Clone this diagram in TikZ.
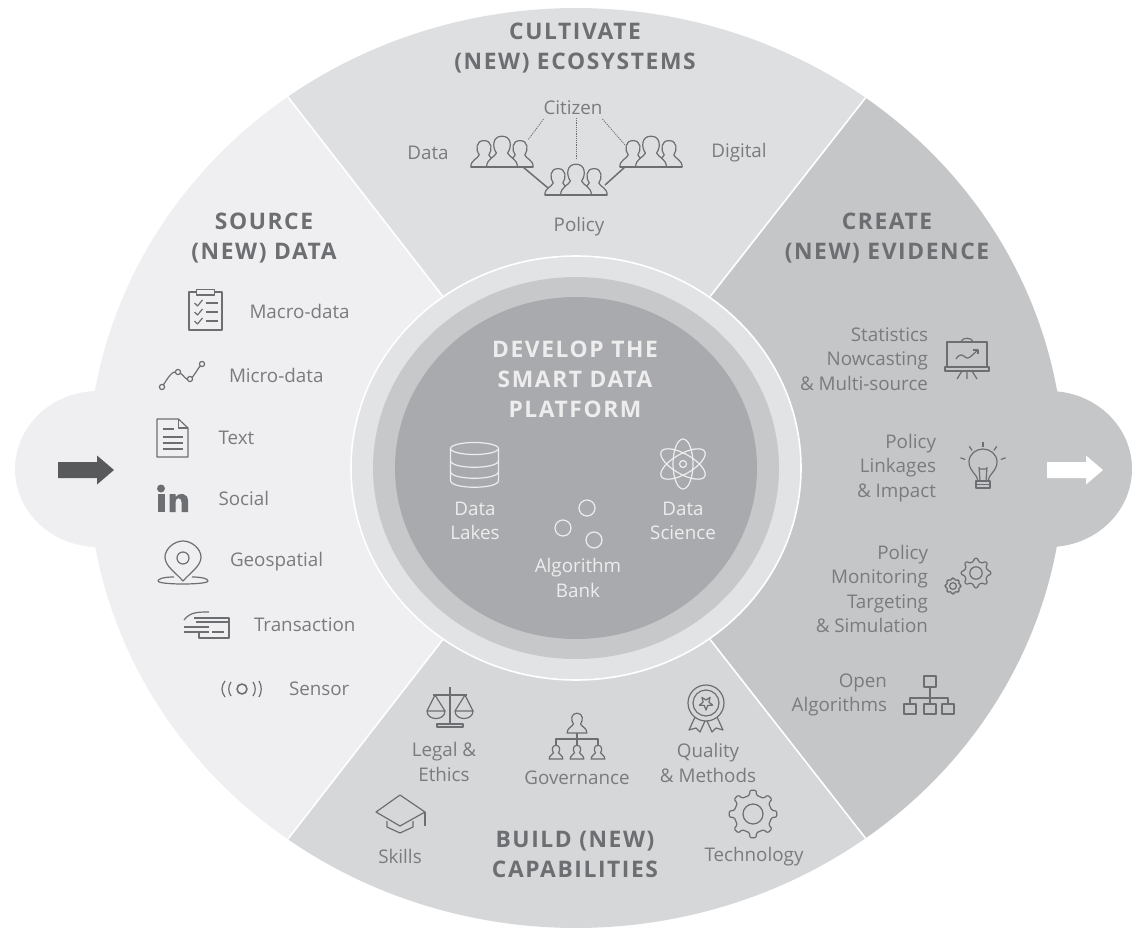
\documentclass[tikz,border=0pt]{standalone}
\usepackage{fontspec}
\usepackage{tikz}
\usetikzlibrary{positioning, calc}
\setmainfont{Open Sans}
\newfontfamily\ttlfont[LetterSpace=7]{Open Sans}
\definecolor{wedgeL}{HTML}{EFEFF1}
\definecolor{wedgeT}{HTML}{DEDFE1}
\definecolor{wedgeR}{HTML}{C5C6C8}
\definecolor{wedgeB}{HTML}{D6D7D9}
\definecolor{ringA}{HTML}{E2E3E5}
\definecolor{ringB}{HTML}{C7C8CA}
\definecolor{hub}{HTML}{A9AAAD}
\definecolor{inkA}{HTML}{7A7B7E}
\definecolor{inkB}{HTML}{6D6E71}
\definecolor{inkC}{HTML}{58595B}
\definecolor{hubtext}{HTML}{EDEDEE}
\tikzset{
every node/.style={inner sep=0pt, outer sep=0pt},
seam/.style={draw=white, line width=1.6pt}, % white seams between the sectors
lbl/.style={font=\fontsize{18.8}{24.5}\selectfont, text=inkA, align=center},
lblr/.style={lbl, align=right},
ttl/.style={font=\ttlfont\fontsize{22.8}{30}\bfseries\selectfont, text=inkB, align=center},
hubttl/.style={ttl, text=hubtext},
hublbl/.style={lbl, text=hubtext},
icon/.style={draw=inkB, line width=1.2pt, line join=round},
hubicon/.style={draw=hubtext, line width=1.2pt},
personicon/.pic={
  \draw[icon, pic actions] (-11,0) .. controls (-11,-6) and (-5,-7) .. (-4,-10)
    .. controls (-7,-14) and (-7,-22) .. (0,-22) .. controls (7,-22) and (7,-14) .. (4,-10)
    .. controls (5,-7) and (11,-6) .. (11,0) -- cycle;
},
groupicon/.pic={
  \pic[scale=1.2, fill=wedgeT] at (-18,0) {personicon};
  \pic[scale=1.2, fill=wedgeT] at (18,0) {personicon};
  \pic[scale=1.4, fill=wedgeT] at (0,0) {personicon};
  \draw[icon, line width=1.5pt] (-31,0) -- (31,0);
},
gearicon/.pic={
  \draw[icon, rounded corners=1.2pt] (-11:19) \foreach \a in {0,45,...,315} {
    -- ({\a-11}:19) -- ({\a-7}:24) -- ({\a+7}:24) -- ({\a+11}:19) } -- cycle;
  \draw[icon] (0,0) circle [radius=10];
},
blockarrow/.pic={
  \fill[pic actions] (0,-8) -- (39,-8) -- (39,-14.5) -- (56,0) -- (39,14.5) -- (39,8) -- (0,8) -- cycle;
},
}

\begin{document}
\begin{tikzpicture}[x=1pt, y=-1pt]
        \useasboundingbox (0,0) rectangle (1132,928);

        % side lobes behind the disc
        \fill[wedgeL] (98,469) ellipse [x radius=83, y radius=78];
        \fill[wedgeR] (1049,469) ellipse [x radius=83, y radius=78];

        % four sectors
        \coordinate (mid) at (576,468);
        \coordinate (cornerBL) at ($(mid)+(126.2:488 and 460)$);
        \coordinate (cornerTL) at ($(mid)+(233.8:488 and 460)$);
        \coordinate (cornerTR) at ($(mid)+(-53.6:488 and 460)$);
        \coordinate (cornerBR) at ($(mid)+(53.6:488 and 460)$);
        \fill[wedgeL] (mid) -- (cornerBL) arc [start angle=126.2, end angle=233.8, x radius=488, y radius=460] -- cycle;
        \fill[wedgeT] (mid) -- (cornerTL) arc [start angle=233.8, end angle=306.4, x radius=488, y radius=460] -- cycle;
        \fill[wedgeR] (mid) -- (cornerTR) arc [start angle=-53.6, end angle=53.6, x radius=488, y radius=460] -- cycle;
        \fill[wedgeB] (mid) -- (cornerBR) arc [start angle=53.6, end angle=126.2, x radius=488, y radius=460] -- cycle;
        \draw[seam] (mid) -- (cornerBL);
        \draw[seam] (mid) -- (cornerTL);
        \draw[seam] (mid) -- (cornerTR);
        \draw[seam] (mid) -- (cornerBR);

        % hub
        \filldraw[seam, fill=ringA] (mid) ellipse [x radius=225, y radius=212];
        \fill[ringB] (mid) ellipse [x radius=203, y radius=191];
        \fill[hub] (mid) ellipse [x radius=181, y radius=171];

        % arrows
        \pic[fill=inkC] at (58,470) {blockarrow};
        \pic[fill=white] at (1047,470) {blockarrow};

        % titles
        \node[ttl] (source) at (264,238) {SOURCE\\(NEW) DATA};
        \node[ttl] (cultivate) at (575,48) {CULTIVATE\\(NEW) ECOSYSTEMS};
        \node[ttl] (create) at (887,238) {CREATE\\(NEW) EVIDENCE};
        \node[ttl] (build) at (575,854) {BUILD (NEW)\\CAPABILITIES};
        \node[hubttl] (develop) at (575,379) {DEVELOP THE\\SMART DATA\\PLATFORM};

        % source column
        \coordinate (clip) at (205.5,311);
        \coordinate (line) at (182,375);
        \coordinate (page) at (172.5,438);
        \coordinate (link) at (172.5,498);
        \coordinate (geo) at (183,562);
        \coordinate (card) at (206,625);
        \coordinate (wave) at (242,689);
        \node[lbl, right=44pt of clip] (macro) {Macro-data};
        \node[lbl, right=47pt of line] (micro) {Micro-data};
        \node[lbl, right=46pt of page] (text) {Text};
        \node[lbl, right=46pt of link] (social) {Social};
        \node[lbl, right=47pt of geo] (geospatial) {Geospatial};
        \node[lbl, right=48pt of card] (transaction) {Transaction};
        \node[lbl, right=47pt of wave] (sensor) {Sensor};

        \begin{scope}[shift={(clip)}]
        \draw[icon] (-16.5,-19) rectangle (16.5,19);
        \draw[icon, fill=wedgeL] (-9,-21.5) rectangle (9,-16);
        \foreach \y in {-8,1,10} {
          \draw[icon] (-11,\y) -- (-8,{\y+3}) -- (-3,{\y-3});
          \draw[icon] (0,\y) -- (12,\y);
        }
        \end{scope}
        \draw[icon] (162,387) .. controls (168,378) and (172,370) .. (178,372)
          .. controls (184,374) and (186,382) .. (190,379) .. controls (195,376) and (196,370) .. (202,364);
        \foreach \p in {(162,387),(178,372),(190,379),(202,364)}
          \draw[icon, fill=wedgeL] \p circle [radius=2.6];
        \begin{scope}[shift={(page)}]
        \draw[icon] (-15.5,-19) -- (6,-19) -- (15.5,-10) -- (15.5,19) -- (-15.5,19) -- cycle;
        \draw[icon] (6,-19) -- (6,-10) -- (15.5,-10);
        \draw[icon] (-10,-9) -- (1,-9);
        \foreach \y in {-1,5,11} \draw[icon] (-10,\y) -- (10,\y);
        \end{scope}
        \begin{scope}[shift={(link)}]
        \fill[inkB] (-11.5,-9.5) circle [radius=4];
        \fill[inkB] (-15,-4) rectangle (-8,14);
        \fill[inkB] (-3,-4) -- (3,-4) -- (3,-1) .. controls (6,-5.5) and (15.5,-6) .. (15.5,3) -- (15.5,14) -- (9,14) -- (9,4)
          .. controls (9,-1) and (3,-1) .. (3,4) -- (3,14) -- (-3,14) -- cycle;
        \end{scope}
        \begin{scope}[shift={(geo)}]
        \draw[icon] (0,19) .. controls (-8,10) and (-18,4) .. (-18,-5) .. controls (-18,-13) and (-9,-21) .. (0,-21)
          .. controls (9,-21) and (18,-13) .. (18,-5) .. controls (18,4) and (8,10) .. (0,19) -- cycle;
        \draw[icon] (0,-4) circle [radius=6];
        \draw[icon] (-9,15) .. controls (-20,15) and (-25,17) .. (-25,19) .. controls (-25,23) and (25,23) .. (25,19)
          .. controls (25,17) and (20,15) .. (9,15);
        \end{scope}
        \begin{scope}[shift={(card)}]
        \draw[icon] (-12,-7) -- (23,-7) -- (23,13) -- (-7,13) -- (-7,6);
        \draw[icon] (-22,-5) .. controls (-16,-13) and (-8,-13) .. (3,-13);
        \draw[icon] (-22,2) -- (3,2) (-22,7) -- (3,7) (-10,-3) -- (23,-3);
        \draw[icon] (6,7) -- (18,7);
        \end{scope}
        \begin{scope}[shift={(wave)}]
        \draw[icon, line width=1.6pt] (0,0) circle [radius=5];
        \draw[icon] (-11,-7) .. controls (-14,-3) and (-14,3) .. (-11,7);
        \draw[icon] (-17,-8) .. controls (-21,-3) and (-21,3) .. (-17,8);
        \draw[icon] (11,-7) .. controls (14,-3) and (14,3) .. (11,7);
        \draw[icon] (17,-8) .. controls (20,-3) and (20,3) .. (17,8);
        \end{scope}

        % ecosystem
        \node[lbl] (citizen) at (573,108) {Citizen};
        \node[lbl] (dataeco) at (428,153) {Data};
        \node[lbl] (digital) at (739,153) {Digital};
        \node[lbl] (policyeco) at (579,227) {Policy};
        \coordinate (grpdata) at (502,167);
        \coordinate (grpdigital) at (651,167);
        \coordinate (grppolicy) at (576,195);
        \pic at (grpdata) {groupicon};
        \pic at (grpdigital) {groupicon};
        \pic at (grppolicy) {groupicon};
        \draw[icon, line width=1.5pt] ($(grpdata)+(21,0)$) -- ($(grppolicy)+(-28,-7)$);
        \draw[icon, line width=1.5pt] ($(grpdigital)+(-26,0)$) -- ($(grppolicy)+(29,-10)$);
        \draw[icon, densely dotted, line width=.8pt] (citizen.south west) ++(0,4) -- ($(grpdata)+(26,-27)$);
        \draw[icon, densely dotted, line width=.8pt] (citizen.south) ++(3,3) -- ($(grppolicy)+(0,-36)$);
        \draw[icon, densely dotted, line width=.8pt] (citizen.south east) ++(0,4) -- ($(grpdigital)+(-26,-22)$);

        % hub items
        \node[hublbl] (lakes) at (475,521) {Data\\Lakes};
        \node[hublbl] (science) at (683,521) {Data\\Science};
        \node[hublbl] (bank) at (578,578) {Algorithm\\Bank};
        \begin{scope}[shift={(474.5,464.5)}]
        \draw[hubicon] (-24,-16) -- (-24,16) .. controls (-24,25) and (24,25) .. (24,16) -- (24,-16);
        \draw[hubicon] (0,-16) ellipse [x radius=24, y radius=6];
        \draw[hubicon] (-24,-4) .. controls (-24,5) and (24,5) .. (24,-4);
        \draw[hubicon] (-24,7) .. controls (-24,16) and (24,16) .. (24,7);
        \end{scope}
        \begin{scope}[shift={(683,464)}]
        \foreach \a in {30,90,150}
          \draw[hubicon, rotate=\a] (0,0) ellipse [x radius=25, y radius=10];
        \draw[hubicon] (0,0) circle [radius=3.5];
        \end{scope}
        \draw[hubicon] (587,508) circle [radius=8];
        \draw[hubicon] (563,528) circle [radius=8];
        \draw[hubicon] (594,540) circle [radius=8];

        % capabilities
        \node[lbl] (legal) at (444,762) {Legal \&\\Ethics};
        \node[lbl] (governance) at (577,778) {Governance};
        \node[lbl] (quality) at (708,763) {Quality\\\& Methods};
        \node[lbl] (skills) at (400,856) {Skills};
        \node[lbl] (technology) at (754,857) {Technology};
        \begin{scope}[shift={(450,707)}]
        \draw[icon] (0,-20) -- (0,17);
        \draw[icon] (-17,-12) -- (17,-12);
        \draw[icon] (-13,17) rectangle (13,20);
        \draw[icon] (-15,-12) -- (-23,4) (-15,-12) -- (-5,4) (15,-12) -- (5,4) (15,-12) -- (23,4);
        \draw[icon] (-23,4) -- (-5,4) .. controls (-5,14) and (-23,14) .. (-23,4);
        \draw[icon] (5,4) -- (23,4) .. controls (23,14) and (5,14) .. (5,4);
        \end{scope}
        \pic[scale=.9] at (577,733) {personicon};
        \draw[icon] (577,733) -- (577,745) (556,745) -- (556,739) -- (598,739) -- (598,745);
        \pic[scale=.62] at (556,759) {personicon};
        \pic[scale=.62] at (577,759) {personicon};
        \pic[scale=.62] at (598,759) {personicon};
        \begin{scope}[shift={(706,703)}]
        \draw[icon] (-11,14) -- (-17,27) -- (-10,25) -- (-6,29) -- (-1,18);
        \draw[icon] (11,14) -- (17,27) -- (10,25) -- (6,29) -- (1,18);
        \draw[icon, fill=wedgeB] (0,0) circle [radius=18];
        \draw[icon] (0,0) circle [radius=13];
        \draw[icon] (90:7) -- (126:3) -- (162:7) -- (198:3) -- (234:7) -- (270:3) -- (306:7) -- (342:3) -- (18:7) -- (54:3) -- cycle;
        \end{scope}
        \begin{scope}[shift={(400,814)}]
        \draw[icon] (-24,-2) -- (0,-19) -- (25,-2) -- (0,12) -- cycle;
        \draw[icon] (-13,7) -- (-13,13) -- (0,19) -- (13,13) -- (13,7);
        \draw[icon] (25,-2) -- (25,12);
        \end{scope}
        \pic at (753,814) {gearicon};

        % evidence column
        \node[lblr, anchor=east] (stats) at (928,359) {Statistics\\Nowcasting\\\& Multi-source};
        \node[lblr, anchor=east] (linkages) at (936,468) {Policy\\Linkages\\\& Impact};
        \node[lblr, anchor=east] (monitoring) at (928,589) {Policy\\Monitoring\\Targeting\\\& Simulation};
        \node[lblr, anchor=east] (open) at (887,695) {Open\\Algorithms};
        \begin{scope}[shift={(967,359)}]
        \draw[icon] (-20,-17) rectangle (20,8);
        \draw[icon] (-6,-17) .. controls (-6,-22) and (6,-22) .. (6,-17);
        \draw[icon] (-22,8) rectangle (22,12);
        \draw[icon] (-10,20) -- (-5,12) (0,20) -- (0,12) (10,20) -- (5,12);
        \draw[icon] (-11,0) .. controls (-8,-5) and (-5,-5) .. (-2,-2) .. controls (1,1) and (3,-2) .. (11,-9);
        \draw[icon] (6,-9) -- (11,-9) -- (11,-5);
        \end{scope}
        \begin{scope}[shift={(983,466)}]
        \draw[icon] (-5,15) .. controls (-5,9) and (-14,5) .. (-14,-4) .. controls (-14,-12) and (-7,-17) .. (0,-17)
          .. controls (7,-17) and (14,-12) .. (14,-4) .. controls (14,5) and (5,9) .. (5,15) -- cycle;
        \draw[icon] (-4,1) -- (-3,15) (4,1) -- (3,15) (-4,3) -- (4,3);
        \draw[icon] (-7,15) rectangle (7,22);
        \draw[icon] (-7,18.5) -- (7,18.5);
        \foreach \a in {-160,-125,-90,-55,-20}
          \draw[icon] (\a:19) -- (\a:24);
        \end{scope}
        \pic[scale=.62] at (976,573) {gearicon};
        \pic[scale=.34] at (953,586) {gearicon};
        \begin{scope}[shift={(930,695)}]
        \draw[icon] (-6,-19) rectangle (6,-8);
        \draw[icon] (0,-8) -- (0,9) (-20,9) -- (-20,3) -- (18,3) -- (18,9);
        \foreach \x in {-20,0,18}
          \draw[icon] ({\x-6},9) rectangle ({\x+6},19);
        \end{scope}
\end{tikzpicture}
\end{document}
